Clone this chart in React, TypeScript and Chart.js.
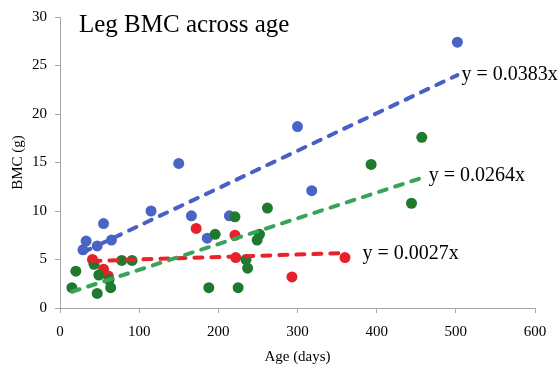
import React, { useEffect, useRef } from "react";
import { Chart, registerables } from "chart.js";

Chart.register(...registerables);

const SERIF = '"Liberation Serif", "Times New Roman", serif';

const xTicks = [0, 100, 200, 300, 400, 500, 600];
const yTicks = [0, 5, 10, 15, 20, 25, 30];

const blueAge = [29, 33, 47, 55, 65, 115, 150, 166, 186, 214, 300, 318, 502];
const blueBMC = [6.0, 6.9, 6.4, 8.7, 7.0, 10.0, 14.9, 9.5, 7.2, 9.5, 18.7, 12.1, 27.4];

const redAge = [41, 55, 61, 172, 221, 222, 293, 360];
const redBMC = [5.0, 4.0, 3.3, 8.2, 7.5, 5.2, 3.2, 5.2];

const greenAge = [15, 20, 43, 47, 49, 62, 64, 78, 91, 188, 196, 221, 225, 235, 237, 249, 252, 262, 393, 444, 457];
const greenBMC = [2.1, 3.8, 4.5, 1.5, 3.4, 2.9, 2.1, 4.9, 4.9, 2.1, 7.6, 9.4, 2.1, 5.0, 4.1, 7.0, 7.6, 10.3, 14.8, 10.8, 17.6];

const equations = ["y = 0.0383x", "y = 0.0264x", "y = 0.0027x"];
const titleText = "Leg BMC across age";

const BLUE = "#4a64c4";
const BLUE_LINE = "#4a5ec6";
const GREEN = "#1f7a2f";
const GREEN_LINE = "#3aa35a";
const RED = "#e8202b";
const RED_LINE = "#e8232b";

function pts(xs: number[], ys: number[]) {
  return xs.map((x, i) => ({ x, y: ys[i] }));
}

function fitLine(xs: number[], ys: number[]) {
  const n = xs.length;
  const mx = xs.reduce((a, b) => a + b, 0) / n;
  const my = ys.reduce((a, b) => a + b, 0) / n;
  let sxy = 0;
  let sxx = 0;
  for (let i = 0; i < n; i++) {
    sxy += (xs[i] - mx) * (ys[i] - my);
    sxx += (xs[i] - mx) * (xs[i] - mx);
  }
  const m = sxy / sxx;
  const b = my - m * mx;
  const x0 = Math.min(...xs);
  const x1 = Math.max(...xs);
  return [
    { x: x0, y: m * x0 + b },
    { x: x1, y: m * x1 + b },
  ];
}

export default function App() {
  const ref = useRef<HTMLCanvasElement | null>(null);

  useEffect(() => {
    if (!ref.current) return;
    const blueFit = fitLine(blueAge, blueBMC);
    const greenFit = fitLine(greenAge, greenBMC);
    const redFit = fitLine(redAge, redBMC);

    const labelPlugin = {
      id: "labels",
      afterDatasetsDraw(chart: any) {
        const ctx = chart.ctx;
        const xs = chart.scales.x;
        const ys = chart.scales.y;
        ctx.save();
        ctx.fillStyle = "#000";
        ctx.textAlign = "left";
        ctx.textBaseline = "alphabetic";
        ctx.font = `25px ${SERIF}`;
        ctx.fillText(titleText, chart.chartArea.left + 19, 31.5);
        ctx.font = `20px ${SERIF}`;
        const ends = [
          { p: blueFit[1], dx: 4, dy: 4.6 },
          { p: greenFit[1], dx: 7, dy: 3 },
          { p: redFit[1], dx: 17.5, dy: 5.7 },
        ];
        ends.forEach((e, i) => {
          const px = xs.getPixelForValue(e.p.x);
          const py = ys.getPixelForValue(e.p.y);
          ctx.fillText(equations[i], px + e.dx, py + e.dy);
        });
        ctx.restore();
      },
    };

    const dashed = {
      type: "line" as const,
      showLine: true,
      pointRadius: 0,
      borderWidth: 4,
      borderDash: [8, 9],
      borderCapStyle: "round" as const,
      fill: false,
      order: 0,
    };

    const chart = new Chart(ref.current, {
      type: "scatter",
      data: {
        datasets: [
          {
            label: "blue",
            data: pts(blueAge, blueBMC),
            backgroundColor: BLUE,
            borderColor: BLUE,
            pointRadius: 5.5,
            borderWidth: 0,
            order: 3,
          },
          {
            label: "red",
            data: pts(redAge, redBMC),
            backgroundColor: RED,
            borderColor: RED,
            pointRadius: 5.5,
            borderWidth: 0,
            order: 2,
          },
          {
            label: "green",
            data: pts(greenAge, greenBMC),
            backgroundColor: GREEN,
            borderColor: GREEN,
            pointRadius: 5.5,
            borderWidth: 0,
            order: 1,
          },
          { ...dashed, label: "blueFit", data: blueFit, borderColor: BLUE_LINE },
          { ...dashed, label: "greenFit", data: greenFit, borderColor: GREEN_LINE },
          { ...dashed, label: "redFit", data: redFit, borderColor: RED_LINE },
        ] as any,
      },
      options: {
        animation: false,
        responsive: true,
        maintainAspectRatio: false,
        layout: { padding: { top: 14, right: 23, left: 0, bottom: 0 } },
        plugins: {
          legend: { display: false },
          tooltip: { enabled: false },
        },
        scales: {
          x: {
            type: "linear",
            min: 0,
            max: 600,
            afterBuildTicks: (s: any) => {
              s.ticks = xTicks.map((v) => ({ value: v }));
            },
            afterFit: (s: any) => {
              s.height = 59;
            },
            border: { display: true, color: "#a6a6a6", width: 1 },
            grid: { display: true, drawOnChartArea: false, drawTicks: true, tickLength: 5, color: "#a6a6a6" },
            ticks: { color: "#000", padding: 10, font: { family: SERIF, size: 15 }, maxRotation: 0 },
            title: {
              display: true,
              text: "Age (days)",
              color: "#000",
              font: { family: SERIF, size: 15 },
              padding: { top: 0, bottom: 1 },
            },
          },
          y: {
            type: "linear",
            min: 0,
            max: 30,
            afterBuildTicks: (s: any) => {
              s.ticks = yTicks.map((v) => ({ value: v }));
            },
            afterFit: (s: any) => {
              s.width = 60;
            },
            border: { display: true, color: "#a6a6a6", width: 1 },
            grid: { display: true, drawOnChartArea: false, drawTicks: true, tickLength: 5, color: "#a6a6a6" },
            ticks: { color: "#000", padding: 8, font: { family: SERIF, size: 15 } },
            title: {
              display: true,
              text: "BMC (g)",
              color: "#000",
              font: { family: SERIF, size: 15 },
              padding: { top: 9, bottom: 0 },
            },
          },
        },
      },
      plugins: [labelPlugin],
    });
    return () => chart.destroy();
  }, []);

  return (
    <div style={{ position: "absolute", left: 0, top: 0, width: 558, height: 367, background: "#fff" }}>
      <canvas ref={ref} />
    </div>
  );
}
